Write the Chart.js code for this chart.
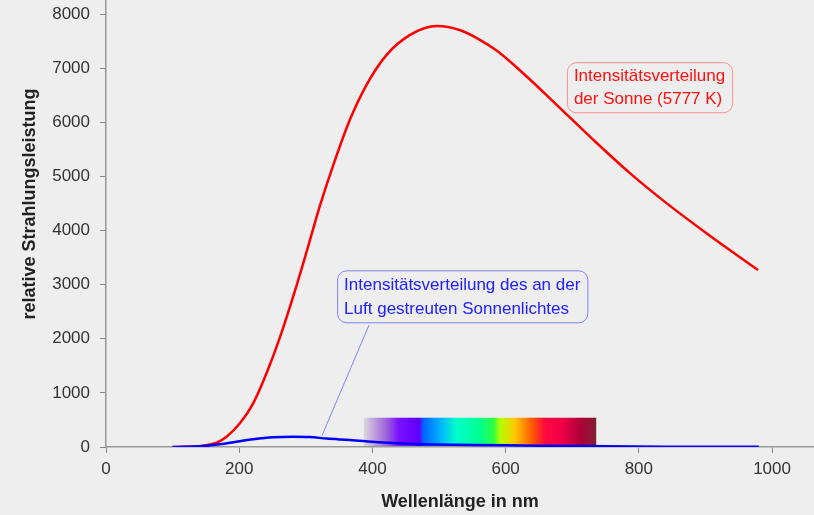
<!DOCTYPE html>
<html>
<head>
<meta charset="utf-8">
<script src="https://cdn.jsdelivr.net/npm/chart.js@4/dist/chart.umd.min.js"></script>
<style>
  body { margin: 0; background: #eeeeee; }
  #wrap { width: 814px; height: 515px; }
</style>
</head>
<body>
<div id="wrap"><canvas id="spektrum" width="814" height="515"></canvas></div>
<script>
// Sonnenspektrum (5777 K)
const sonneNm    = [100, 140, 166, 181, 201, 221, 241, 261, 281, 301, 321, 341, 366, 391, 421, 456, 497, 532, 562, 587, 632, 677, 732, 787, 842, 902, 979]
const sonneWerte = [0, 15, 79, 190, 438, 807, 1362, 2020, 2777, 3600, 4450, 5200, 6041, 6688, 7242, 7611, 7778, 7700, 7520, 7320, 6841, 6318, 5672, 5056, 4502, 3947, 3270]

// an der Luft gestreutes Licht
const luftNm    = [100, 146, 171, 196, 221, 251, 281, 306, 331, 366, 409, 454, 494, 554, 624, 694, 749, 850, 980]
const luftWerte = [0, 18, 50, 98, 142, 179, 190, 185, 155, 130, 90, 62, 48, 36, 28, 20, 12, 6, 3]

const xTicks = [0, 200, 400, 600, 800, 1000]
const yTicks = [0, 1000, 2000, 3000, 4000, 5000, 6000, 7000, 8000]

const toPoints = (xs, ys) => xs.map((x, i) => ({x: x, y: ys[i]}))

const FONT = "'Liberation Sans', Arial, sans-serif"
Chart.defaults.font.family = FONT

// Regenbogen-Balken fuer den sichtbaren Bereich
const spektrumBalken = {
  id: 'spektrumBalken',
  beforeDatasetsDraw(chart) {
    const ctx = chart.ctx
    const x = chart.scales.x, y = chart.scales.y
    const x0 = x.getPixelForValue(387), x1 = x.getPixelForValue(736)
    const top = y.getPixelForValue(541), bottom = y.getPixelForValue(0) - 1
    const g = ctx.createLinearGradient(x0, 0, x1, 0)
    g.addColorStop(0, '#dcd8e0')
    g.addColorStop(0.10, '#9a60d8')
    g.addColorStop(0.15, '#7a10ff')
    g.addColorStop(0.24, '#6000ff')
    g.addColorStop(0.255, '#0060ff')
    g.addColorStop(0.33, '#00b4ff')
    g.addColorStop(0.40, '#00ffc8')
    g.addColorStop(0.50, '#00ff90')
    g.addColorStop(0.56, '#30ff40')
    g.addColorStop(0.585, '#b0ff00')
    g.addColorStop(0.65, '#ffc800')
    g.addColorStop(0.72, '#ff6000')
    g.addColorStop(0.78, '#ff0840')
    g.addColorStop(0.85, '#f00048')
    g.addColorStop(0.93, '#b00038')
    g.addColorStop(1, '#802030')
    ctx.save()
    ctx.fillStyle = g
    ctx.fillRect(x0, top, x1 - x0, bottom - top)
    ctx.restore()
  }
}

function textBox(ctx, left, top, lines, color, border, lineH) {
  ctx.font = '17px ' + FONT
  let w = 0
  lines.forEach(l => { w = Math.max(w, ctx.measureText(l).width) })
  const bw = w + 14, bh = lines.length * lineH + 4
  ctx.fillStyle = '#eeeeee'
  ctx.strokeStyle = border
  ctx.lineWidth = 1
  ctx.beginPath()
  ctx.roundRect(left + 0.5, top + 0.5, bw, bh, 9)
  ctx.fill()
  ctx.stroke()
  ctx.fillStyle = color
  ctx.textBaseline = 'middle'
  lines.forEach((l, i) => ctx.fillText(l, left + 7, top + 3 + lineH * (i + 0.5)))
}

// Beschriftungen, Achsentitel links
const beschriftung = {
  id: 'beschriftung',
  afterDatasetsDraw(chart) {
    const ctx = chart.ctx
    const x = chart.scales.x, y = chart.scales.y
    ctx.save()
    // Hinweislinie fuer Streulicht
    ctx.strokeStyle = '#8080ff'
    ctx.lineWidth = 1
    ctx.beginPath()
    ctx.moveTo(x.getPixelForValue(395), y.getPixelForValue(2254))
    ctx.lineTo(x.getPixelForValue(324), y.getPixelForValue(203))
    ctx.stroke()

    textBox(ctx, x.getPixelForValue(692), y.getPixelForValue(7110),
      ['Intensitätsverteilung', 'der Sonne (5777 K)'], '#ff1010', '#ff9090', 23)
    textBox(ctx, x.getPixelForValue(347), y.getPixelForValue(3265),
      ['Intensitätsverteilung des an der', 'Luft gestreuten Sonnenlichtes'], '#2020ff', '#8080ff', 24)

    // y-Achsentitel
    ctx.translate(30, y.getPixelForValue(4490))
    ctx.rotate(-Math.PI / 2)
    ctx.font = 'bold 18px ' + FONT
    ctx.fillStyle = '#222'
    ctx.textAlign = 'center'
    ctx.textBaseline = 'middle'
    ctx.fillText('relative Strahlungsleistung', 0, 0)
    ctx.restore()
  }
}

new Chart(document.getElementById('spektrum'), {
  type: 'line',
  data: {
    datasets: [{
      label: 'Streulicht',
      data: toPoints(luftNm, luftWerte),
      borderColor: '#0000ff',
      borderWidth: 2.5,
      pointRadius: 0,
      cubicInterpolationMode: 'monotone'
    }, {
      label: 'Sonne',
      data: toPoints(sonneNm, sonneWerte),
      borderColor: '#ff0000',
      borderWidth: 2.5,
      pointRadius: 0,
      cubicInterpolationMode: 'monotone'
    }]
  },
  options: {
    responsive: false,
    animation: false,
    devicePixelRatio: 1,
    layout: { padding: 0 },
    plugins: {
      legend: { display: false },
      tooltip: { enabled: false }
    },
    scales: {
      x: {
        type: 'linear',
        min: 0,
        max: 1063,
        afterBuildTicks: s => { s.ticks = xTicks.map(v => ({value: v})) },
        afterFit: s => { s.height = 68; s.paddingLeft = 0; s.paddingRight = 0 },
        grid: { drawOnChartArea: false, tickLength: 6, color: '#888', lineWidth: 1 },
        border: { color: '#999', width: 1.5 },
        ticks: { color: '#333', font: { size: 17 }, padding: 6, maxRotation: 0, callback: v => String(v) },
        title: {
          display: true,
          text: 'Wellenlänge in nm',
          color: '#222',
          font: { size: 18, weight: 'bold' },
          padding: { top: 0, bottom: 2 }
        }
      },
      y: {
        min: 0,
        max: 8260,
        afterBuildTicks: s => { s.ticks = yTicks.map(v => ({value: v})) },
        afterFit: s => { s.width = 106; s.paddingTop = 0; s.paddingBottom = 0 },
        grid: { drawOnChartArea: false, tickLength: 6, color: '#888', lineWidth: 1 },
        border: { color: '#999', width: 1.5 },
        ticks: { color: '#333', font: { size: 17 }, padding: 10, callback: v => String(v) }
      }
    }
  },
  plugins: [spektrumBalken, beschriftung]
});
</script>
</body>
</html>
